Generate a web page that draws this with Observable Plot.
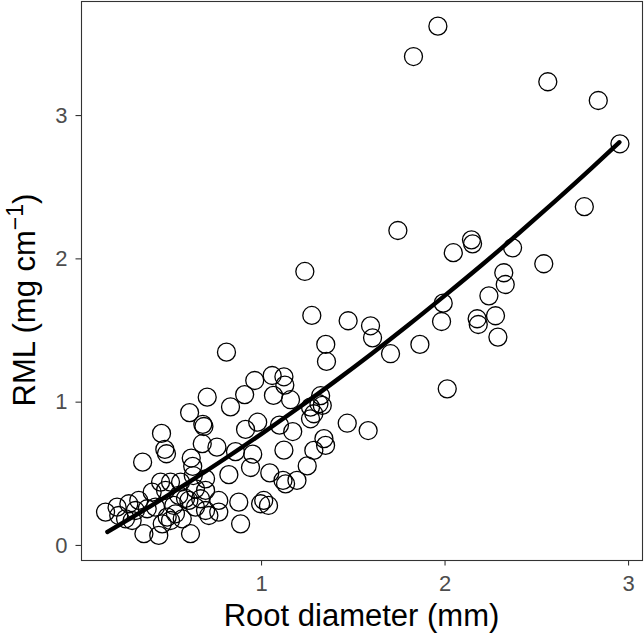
<!DOCTYPE html>
<html><head><meta charset="utf-8">
<script src="https://cdn.jsdelivr.net/npm/d3@7"></script>
<script src="https://cdn.jsdelivr.net/npm/@observablehq/plot@0.6"></script>
<style>body{margin:0;background:#fff}</style>
</head><body><div id="chart"></div>
<script>
const rootDiameter = [
1.961,1.828,2.560,2.835,2.953,2.759,1.743,2.144,2.150,2.045,2.368,2.538,2.320,2.328,2.239,1.990,1.981,2.175,2.181,2.275,2.288,1.863,1.703,2.012,
1.236,1.274,1.472,1.594,1.605,1.350,1.354,0.809,1.467,1.581,1.322,1.313,1.267,1.331,1.285,1.267,1.340,1.349,1.285,1.249,
1.058,1.122,1.127,0.963,0.908,1.065,1.158,0.704,0.831,0.979,0.913,1.098,1.170,0.608,0.680,0.686,0.757,0.858,0.952,1.122,
0.940,0.822,1.045,1.117,1.131,1.193,0.677,0.455,0.473,0.482,0.352,0.617,0.625,0.628,0.695,0.559,0.640,0.695,0.668,0.604,
0.549,0.767,0.876,0.995,1.012,0.695,0.640,0.713,0.568,0.886,0.613,0.450,0.504,0.404,0.477,0.331,0.277,0.213,0.150,0.222,
0.259,0.313,0.377,0.422,0.359,0.440,0.486,0.504,0.531,0.522,0.586,0.295,0.459,0.767,1.038
];
const rml = [
3.624,3.412,3.236,3.105,2.803,2.364,2.198,2.133,2.105,2.043,2.077,1.966,1.903,1.821,1.742,1.691,1.563,1.582,1.542,1.603,1.454,1.403,1.338,1.093,
1.912,1.605,1.568,1.533,1.449,1.403,1.284,1.349,0.853,0.802,1.045,0.989,0.965,0.977,0.919,0.884,0.745,0.698,0.663,0.555,
1.186,1.177,1.119,1.151,1.053,1.047,1.017,1.035,0.967,0.860,0.810,0.840,0.795,0.927,0.845,0.830,0.686,0.655,0.637,0.665,
0.544,0.494,0.506,0.454,0.430,0.454,0.710,0.782,0.670,0.640,0.581,0.610,0.552,0.488,0.465,0.442,0.395,0.384,0.326,0.314,
0.349,0.314,0.302,0.291,0.314,0.244,0.267,0.209,0.186,0.151,0.082,0.442,0.442,0.372,0.384,0.314,0.291,0.267,0.233,0.209,
0.186,0.244,0.256,0.267,0.082,0.070,0.198,0.174,0.221,0.279,0.328,0.174,0.151,0.233,0.279
];
const fitDiameter = [0.16,0.4,0.6,0.8,1.0,1.2,1.4,1.6,1.8,2.0,2.2,2.4,2.6,2.8,2.95];
const fitRml = [0.094,0.278,0.438,0.605,0.779,0.959,1.145,1.338,1.538,1.745,1.957,2.177,2.403,2.635,2.814];
const xTicks = [1,2,3];
const yTicks = [0,1,2,3];
const xTitle = "Root diameter (mm)";
const yTitleMain = "RML (mg cm";
const yTitleSup = "\u22121";
const yTitleEnd = ")";

const points = rootDiameter.map((d,i)=>({d, r: rml[i]}));
const fit = fitDiameter.map((d,i)=>({d, r: fitRml[i]}));
const font = "'Liberation Sans', Arial, sans-serif";

const plot = Plot.plot({
  width: 644, height: 635,
  marginLeft: 81, marginRight: 2, marginTop: 1, marginBottom: 75,
  style: {fontFamily: font, fontSize: "22px", background: "#fff", color: "#4d4d4d"},
  x: {domain: [0.019, 3.076]},
  y: {domain: [-0.105, 3.796]},
  marks: [
    Plot.dot(points, {x: "d", y: "r", r: 9, stroke: "black", strokeWidth: 1.3, fill: "none"}),
    Plot.line(fit, {x: "d", y: "r", stroke: "black", strokeWidth: 4.4, curve: "monotone-x"}),
    Plot.frame({stroke: "#333", strokeWidth: 1.1}),
    Plot.axisX(xTicks, {tickSize: 5.5, tickPadding: 9.5, label: null, fontSize: 22, tickFormat: d => String(d), stroke: "#333", fill: "#4d4d4d", strokeWidth: 1.1}),
    Plot.axisY(yTicks, {tickSize: 5.5, tickPadding: 8.5, label: null, fontSize: 22, tickFormat: d => String(d), stroke: "#333", fill: "#4d4d4d", strokeWidth: 1.1})
  ]
});

const svg = d3.select(plot);
svg.append("text")
  .attr("x", 361.5).attr("y", 626)
  .attr("text-anchor", "middle")
  .attr("font-size", 31).attr("fill", "black")
  .attr("font-family", font)
  .text(xTitle);

const yt = svg.append("text")
  .attr("transform", "translate(35,300) rotate(-90)")
  .attr("text-anchor", "middle")
  .attr("font-size", 31).attr("fill", "black")
  .attr("font-family", font);
yt.append("tspan").text(yTitleMain);
yt.append("tspan").attr("font-size", 23).attr("dy", -12).text(yTitleSup);
yt.append("tspan").attr("dy", 12).text(yTitleEnd);

document.getElementById("chart").appendChild(plot);
</script>
</body></html>
